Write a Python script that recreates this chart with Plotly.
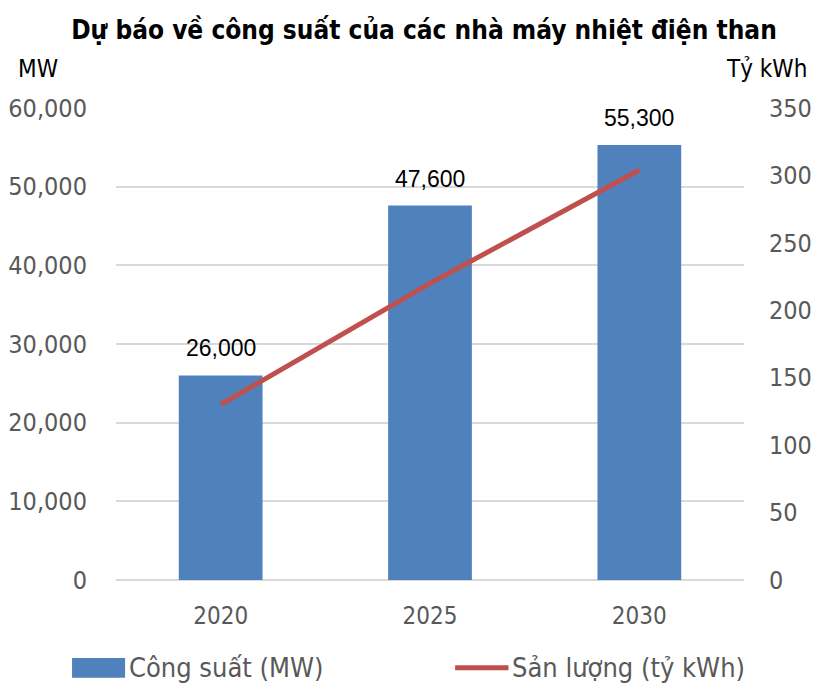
import plotly.graph_objects as go

years = ['2020', '2025', '2030']
cong_suat = [26000, 47600, 55300]      # MW
san_luong = [130, 220, 304]            # ty kWh
cs_labels = ['26,000', '47,600', '55,300']

BLUE = '#4f81bd'
RED = '#c0504d'
GREY = '#595959'
TICKFONT = 'DejaVu Sans Condensed, DejaVu Sans, sans-serif'

# page body has an 8px margin, so the figure is drawn 8px smaller
W, H = 811, 678

fig = go.Figure()

fig.add_trace(go.Bar(
    x=years, y=cong_suat, name='Công suất (MW)',
    marker=dict(color=BLUE, line=dict(width=0)),
    width=0.4, showlegend=False,
))
fig.add_trace(go.Scatter(
    x=years, y=san_luong, name='Sản lượng (tỷ kWh)', yaxis='y2',
    mode='lines', line=dict(color=RED, width=5),
    showlegend=False,
))

# data labels above the bars (category index positions)
for i, (v, t) in enumerate(zip(cong_suat, cs_labels)):
    fig.add_annotation(
        x=i, y=v, text=t, showarrow=False,
        yanchor='bottom', yshift=12,
        font=dict(family='Liberation Sans, Arial, sans-serif', size=23, color='black'),
    )

# axis unit labels
fig.add_annotation(xref='paper', yref='paper', x=-0.124, y=1.082, text='MW',
                   showarrow=False, xanchor='center', yanchor='middle',
                   font=dict(family=TICKFONT, size=24, color='black'))
fig.add_annotation(xref='paper', yref='paper', x=1.036, y=1.082, text='Tỷ kWh',
                   showarrow=False, xanchor='center', yanchor='middle',
                   font=dict(family=TICKFONT, size=24, color='black'))

# hand made legend (Excel style long keys)
LEG_Y = -0.186
fig.add_shape(type='rect', xref='paper', yref='paper',
              x0=-0.07, x1=0.0145, y0=LEG_Y + 0.021, y1=LEG_Y - 0.021,
              fillcolor=BLUE, line=dict(width=0))
fig.add_annotation(xref='paper', yref='paper', x=0.018, y=LEG_Y,
                   text='Công suất (MW)', showarrow=False,
                   xanchor='left', yanchor='middle',
                   font=dict(family=TICKFONT, size=27, color=GREY))
fig.add_shape(type='line', xref='paper', yref='paper',
              x0=0.54, x1=0.625, y0=LEG_Y, y1=LEG_Y,
              line=dict(color=RED, width=5))
fig.add_annotation(xref='paper', yref='paper', x=0.628, y=LEG_Y,
                   text='Sản lượng (tỷ kWh)', showarrow=False,
                   xanchor='left', yanchor='middle',
                   font=dict(family=TICKFONT, size=27, color=GREY))

fig.update_layout(
    width=W, height=H,
    margin=dict(l=108, r=75, t=100, b=106, autoexpand=False),
    paper_bgcolor='white', plot_bgcolor='white',
    title=dict(text='<b>Dự báo về công suất của các nhà máy nhiệt điện than</b>',
               x=416 / W, xref='container', xanchor='center',
               y=1 - 22 / H, yref='container', yanchor='middle',
               font=dict(family=TICKFONT, size=26, color='black')),
    bargap=0.6,
    xaxis=dict(
        type='category', range=[-0.5, 2.5], automargin=False,
        showline=False, showgrid=False, ticks='', ticklabelstandoff=19,
        tickfont=dict(family=TICKFONT, size=24, color=GREY),
    ),
    yaxis=dict(
        range=[0, 60000], dtick=10000, tickformat=',', automargin=False,
        showgrid=True, gridcolor='#d9d9d9', gridwidth=2,
        zeroline=True, zerolinecolor='#d9d9d9', zerolinewidth=2,
        showline=False, ticks='', ticklabelstandoff=28,
        tickfont=dict(family=TICKFONT, size=25, color=GREY),
    ),
    yaxis2=dict(
        range=[0, 350], dtick=50, overlaying='y', side='right', automargin=False,
        showgrid=False, zeroline=False, showline=False, ticks='',
        ticklabelstandoff=24,
        tickfont=dict(family=TICKFONT, size=25, color=GREY),
    ),
)

fig.write_html('out.html')
